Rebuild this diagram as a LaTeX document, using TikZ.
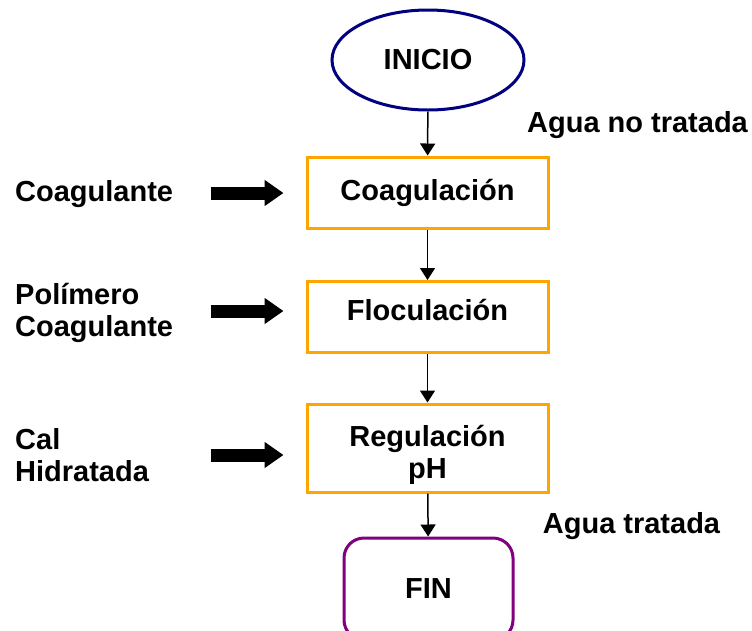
\documentclass[tikz,border=0pt]{standalone}
\usepackage{fontspec}
\setmainfont{Liberation Sans}
\usetikzlibrary{shapes.geometric,arrows.meta}
\definecolor{naranja}{HTML}{FFA500}
\definecolor{azulinicio}{HTML}{000080}
\definecolor{moradofin}{HTML}{800080}
\tikzset{
  texto/.style={font=\fontsize{29}{32}\selectfont\bfseries,inner sep=0pt},
  caja/.style={texto,draw=naranja,line width=3pt,minimum width=241pt,minimum height=71pt,align=center},
  inicio/.style={texto,ellipse,draw=azulinicio,line width=3pt,minimum width=192pt,minimum height=100pt},
  fin/.style={texto,draw=moradofin,line width=3pt,rounded corners=20pt,minimum width=169pt,minimum height=102pt},
  etiqueta/.style={texto,align=left,anchor=west},
  flecha/.style={line width=1.5pt,-{Triangle[width=15pt,length=12pt]}},
  flechagruesa/.style={line width=13pt,-{Triangle[width=25pt,length=19pt]}}
}
\begin{document}
\begin{tikzpicture}[x=1pt,y=-1pt]
        \useasboundingbox (0,0) rectangle (752,630);
        \clip (0,0) rectangle (752,630);
        % etapas del proceso
        \node[inicio] (ini) at (428,60) {INICIO};
        \node[caja] (coag) at (427.5,192.5) {Coagulación};
        \node[caja,text depth=14pt] (floc) at (427.5,317) {Floculación};
        \node[caja,minimum height=88pt] (reg) at (427.5,448) {\rule{0pt}{34pt}Regulación\\pH};
        \node[fin] (fin) at (428.5,589) {FIN};
        \draw[flecha] (ini) -- (coag);
        \draw[flecha] (coag) -- (floc);
        \draw[flecha] (floc) -- (reg);
        \draw[flecha] (reg) -- (fin);
        % entradas y salidas
        \node[texto] (entrada) at (637.5,125) {Agua no tratada};
        \node[texto] (salida) at (631.5,526) {Agua tratada};
        \node[etiqueta] (coagulante) at (15,194) {Coagulante};
        \node[etiqueta] (polimero) at (15,313) {Polímero\\Coagulante};
        \node[etiqueta] (cal) at (15,455) {Cal\\Hidratada};
        \draw[flechagruesa] ([xshift=-95pt,yshift=-0.5pt]coag.west) -- ([xshift=-22pt,yshift=-0.5pt]coag.west);
        \draw[flechagruesa] ([xshift=-95pt,yshift=6pt]floc.west) -- ([xshift=-22pt,yshift=6pt]floc.west);
        \draw[flechagruesa] ([xshift=-95pt,yshift=-7pt]reg.west) -- ([xshift=-22pt,yshift=-7pt]reg.west);
\end{tikzpicture}
\end{document}
